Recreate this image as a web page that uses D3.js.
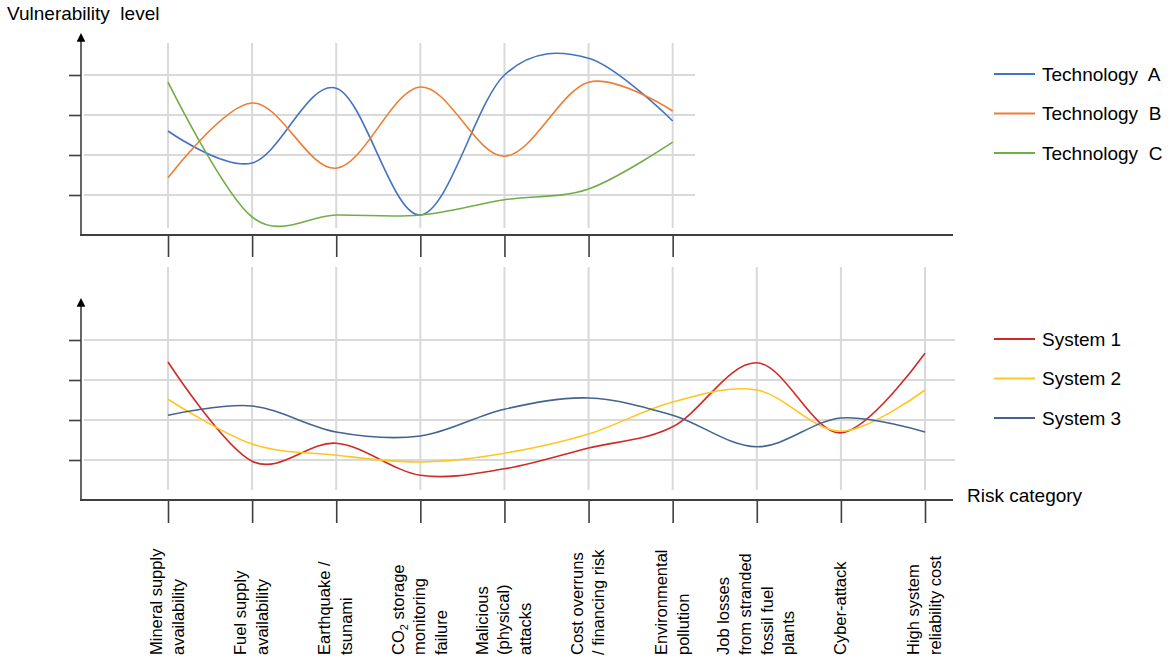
<!DOCTYPE html>
<html>
<head>
<meta charset="utf-8">
<script src="https://cdn.jsdelivr.net/npm/d3@7"></script>
<style>
  body { margin: 0; background: #fff; }
  text { font-family: Arial, "Liberation Sans", sans-serif; fill: #000; }
</style>
</head>
<body>
<div id="chart"></div>
<script>
// risk categories (x axis); top panel only uses the first 7
const categories = [
    ["Mineral supply", "availability"],
    ["Fuel supply", "availability"],
    ["Earthquake /", "tsunami"],
    ["CO2 storage", "monitoring", "failure"],
    ["Malicious", "(physical)", "attacks"],
    ["Cost overruns", "/ financing risk"],
    ["Environmental", "pollution"],
    ["Job losses", "from stranded", "fossil fuel", "plants"],
    ["Cyber-attack"],
    ["High system", "reliability cost"]
];
const catKeys = categories.map(d => d.join(" "));

// vulnerability levels (gridline units)
const techA = [2.6, 1.8, 3.67, 0.5, 4.0, 4.42, 2.85];
const techB = [1.43, 3.3, 1.67, 3.7, 1.97, 3.82, 3.1];
const techC = [3.82, 0.45, 0.5, 0.5, 0.88, 1.15, 2.32];

const sys1 = [3.45, 0.97, 1.42, 0.62, 0.78, 1.3, 1.83, 3.43, 1.68, 3.67];
const sys2 = [2.52, 1.4, 1.12, 0.95, 1.17, 1.65, 2.45, 2.75, 1.72, 2.75];
const sys3 = [2.12, 2.35, 1.7, 1.6, 2.27, 2.55, 2.12, 1.33, 2.05, 1.7];

const yTicks = [1, 2, 3, 4];

const topSeries = [
    { name: "Technology  A", values: techA, color: "#4472C4" },
    { name: "Technology  B", values: techB, color: "#ED7D31" },
    { name: "Technology  C", values: techC, color: "#70AD47" }
];
const bottomSeries = [
    { name: "System 1", values: sys1, color: "#CF2A27" },
    { name: "System 2", values: sys2, color: "#FFC520" },
    { name: "System 3", values: sys3, color: "#44648F" }
];

const width = 1170, height = 664;
const gridColor = "#d9d9d9", axisColor = "#3f3f3f";

const svg = d3.select("#chart").append("svg")
    .attr("width", width)
    .attr("height", height);

// arrow head for the y axes
svg.append("defs").append("marker")
    .attr("id", "arrow")
    .attr("viewBox", "0 0 10 10")
    .attr("refX", 2).attr("refY", 5)
    .attr("markerWidth", 5.5).attr("markerHeight", 5.5)
    .attr("orient", "auto")
    .append("path")
    .attr("d", "M0,0 L10,5 L0,10 z")
    .attr("fill", "#000");

const x = d3.scalePoint().domain(catKeys).range([168, 925]);

const line = y => d3.line()
    .x((d, i) => x(catKeys[i]))
    .y(d => y(d))
    .curve(d3.curveCardinal.tension(0));

function drawPanel(opt) {
    const y = d3.scaleLinear().domain([0, 5]).range([opt.base, opt.base - 200]);
    const keys = catKeys.slice(0, opt.n);
    const g = svg.append("g");

    // horizontal grid
    g.selectAll("line.hgrid").data(yTicks).join("line")
        .attr("class", "hgrid")
        .attr("x1", 84).attr("x2", opt.gridRight)
        .attr("y1", d => y(d)).attr("y2", d => y(d))
        .attr("stroke", gridColor).attr("stroke-width", 2);

    // vertical grid
    g.selectAll("line.vgrid").data(keys).join("line")
        .attr("class", "vgrid")
        .attr("x1", d => x(d)).attr("x2", d => x(d))
        .attr("y1", opt.vTop).attr("y2", opt.vBottom)
        .attr("stroke", gridColor).attr("stroke-width", 2);

    // y ticks (no labels)
    const yAxis = g.append("g")
        .attr("transform", "translate(81,0)")
        .call(d3.axisLeft(y).tickValues(yTicks).tickSize(12).tickFormat(""));
    yAxis.select(".domain").remove();
    yAxis.selectAll("line").attr("stroke", axisColor).attr("stroke-width", 1.6);

    // x ticks (no labels)
    const xAxis = g.append("g")
        .attr("transform", "translate(0," + opt.base + ")")
        .call(d3.axisBottom(x.copy().domain(keys).range([x(keys[0]), x(keys[keys.length - 1])]))
            .tickSize(opt.tickLen).tickFormat(""));
    xAxis.select(".domain").remove();
    xAxis.selectAll("line").attr("stroke", axisColor).attr("stroke-width", 1.6);

    // axes lines
    g.append("line")
        .attr("x1", 80).attr("x2", 953)
        .attr("y1", opt.base).attr("y2", opt.base)
        .attr("stroke", axisColor).attr("stroke-width", 2);
    g.append("line")
        .attr("x1", 81).attr("x2", 81)
        .attr("y1", opt.base).attr("y2", opt.arrowTop + 7)
        .attr("stroke", axisColor).attr("stroke-width", 1.6)
        .attr("marker-end", "url(#arrow)");

    // series
    g.selectAll("path.series").data(opt.series).join("path")
        .attr("class", "series")
        .attr("d", d => line(y)(d.values))
        .attr("fill", "none")
        .attr("stroke", d => d.color)
        .attr("stroke-width", 1.6);

    // legend
    const leg = g.selectAll("g.legend").data(opt.series).join("g")
        .attr("class", "legend")
        .attr("transform", (d, i) => "translate(994," + (opt.legendY + i * 39.5) + ")");
    leg.append("line")
        .attr("x1", 0).attr("x2", 41)
        .attr("stroke", d => d.color).attr("stroke-width", 2.2);
    leg.append("text")
        .attr("x", 48).attr("dy", "0.35em")
        .style("font-size", "19px")
        .style("white-space", "pre")
        .text(d => d.name);
}

drawPanel({ base: 235, n: 7, series: topSeries, gridRight: 695, vTop: 43, vBottom: 228,
    tickLen: 22, arrowTop: 33, legendY: 74 });
drawPanel({ base: 500, n: 10, series: bottomSeries, gridRight: 955, vTop: 267, vBottom: 490,
    tickLen: 23, arrowTop: 298, legendY: 339 });

// axis titles
svg.append("text")
    .attr("x", 7).attr("y", 20)
    .style("font-size", "19px")
    .style("white-space", "pre")
    .text("Vulnerability  level");
svg.append("text")
    .attr("x", 967).attr("y", 502)
    .style("font-size", "19px")
    .text("Risk category");

// rotated category labels
const lineGap = 21.7;
const labels = svg.selectAll("g.catlabel").data(categories).join("g")
    .attr("class", "catlabel");
labels.each(function (lines, i) {
    const cx = x(catKeys[i]);
    const n = lines.length;
    lines.forEach((ln, j) => {
        const bx = cx + 5 + (j - (n - 1) / 2) * lineGap;
        const t = d3.select(this).append("text")
            .attr("transform", "translate(" + bx + ",655) rotate(-90)")
            .style("font-size", "16.5px");
        if (ln.startsWith("CO2")) {
            t.append("tspan").text("CO");
            t.append("tspan").text("2").style("font-size", "11px").attr("dy", 4);
            t.append("tspan").text(" storage").attr("dy", -4);
        } else {
            t.text(ln);
        }
    });
});
</script>
</body>
</html>
